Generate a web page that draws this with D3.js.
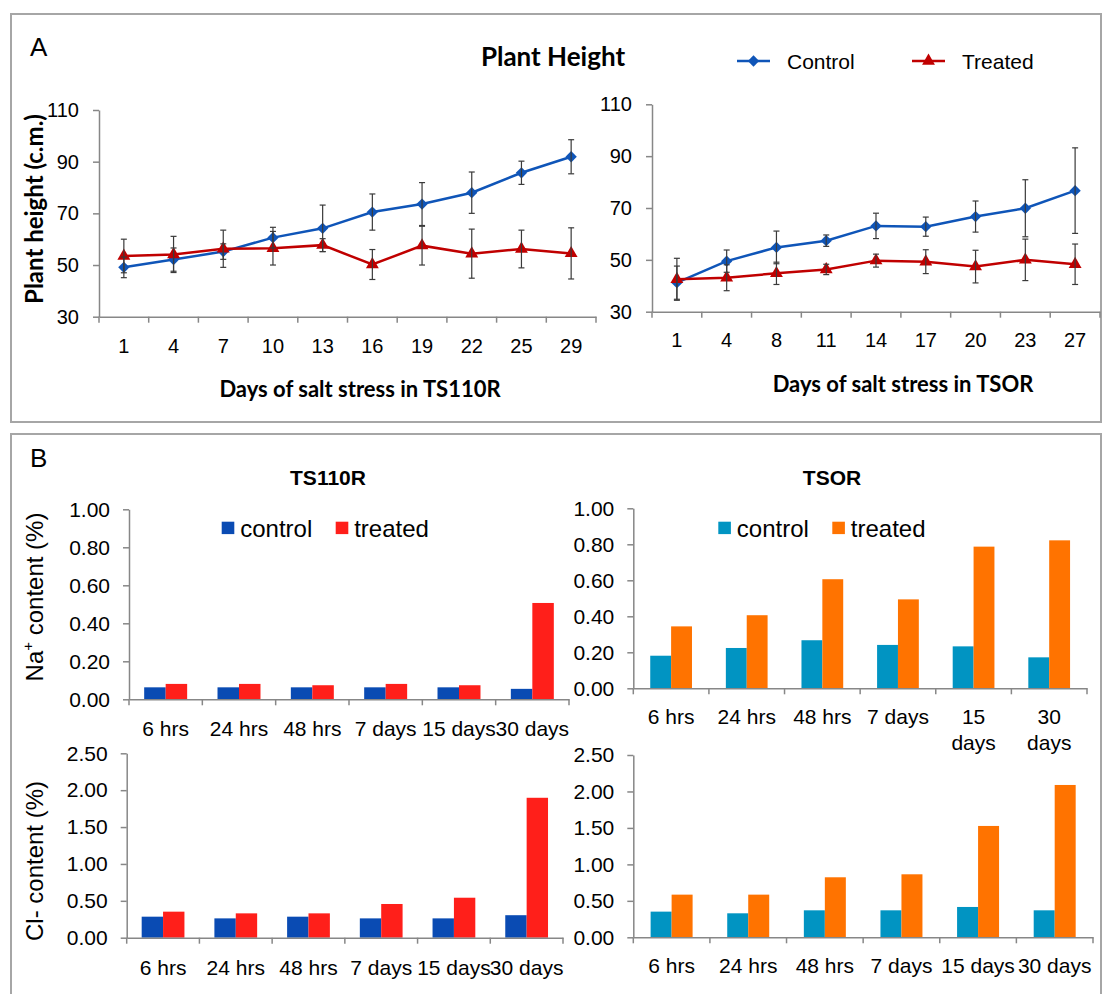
<!DOCTYPE html>
<html>
<head>
<meta charset="utf-8">
<script src="https://cdn.jsdelivr.net/npm/d3@7"></script>
<style>
  body { margin: 0; background: #fff; }
</style>
</head>
<body>
<svg id="chart" width="1103" height="994"></svg>
<script>
// ---- data: plant height (A) ----
const daysTS110R = ['1', '4', '7', '10', '13', '16', '19', '22', '25', '29'];
const controlTS110R = [49.1, 52.1, 55.2, 60.6, 64.2, 70.5, 73.6, 78.0, 85.7, 91.9];
const controlTS110RErr = [4, 4.5, 3, 4, 9, 7, 8.3, 8, 4.5, 6.6];
const treatedTS110R = [53.5, 54.1, 56.3, 56.5, 57.7, 50.2, 57.5, 54.4, 56.2, 54.5];
const treatedTS110RErr = [6.5, 7, 7.2, 6.5, 2.5, 5.8, 7.5, 9.5, 7.3, 9.9];

const daysTSOR = ['1', '4', '8', '11', '14', '17', '20', '23', '27'];
const controlTSOR = [41.2, 49.5, 54.8, 57.4, 63.1, 62.8, 66.7, 69.9, 76.7];
const controlTSORErr = [6.4, 4.3, 6.3, 2.2, 4.9, 3.7, 6, 11, 16.5];
const treatedTSOR = [42.5, 43.1, 44.8, 46.3, 49.7, 49.3, 47.4, 50, 48.3];
const treatedTSORErr = [8.1, 5, 4.3, 2, 2.5, 4.6, 6.3, 8, 7.8];

const heightTicks = [30, 50, 70, 90, 110];

// ---- data: ion content (B) ----
const periods = ['6 hrs', '24 hrs', '48 hrs', '7 days', '15 days', '30 days'];
const naControlTS110R = [0.063, 0.063, 0.063, 0.063, 0.063, 0.055];
const naTreatedTS110R = [0.081, 0.081, 0.074, 0.081, 0.074, 0.507];
const naControlTSOR = [0.181, 0.224, 0.267, 0.241, 0.233, 0.172];
const naTreatedTSOR = [0.344, 0.406, 0.606, 0.494, 0.787, 0.822];
const clControlTS110R = [0.285, 0.262, 0.285, 0.262, 0.262, 0.305];
const clTreatedTS110R = [0.353, 0.330, 0.330, 0.457, 0.542, 1.897];
const clControlTSOR = [0.352, 0.329, 0.370, 0.370, 0.416, 0.370];
const clTreatedTSOR = [0.585, 0.585, 0.823, 0.864, 1.527, 2.089];

const naTicks = [0, 0.2, 0.4, 0.6, 0.8, 1.0];
const clTicks = [0, 0.5, 1.0, 1.5, 2.0, 2.5];

const ARIAL = '"Liberation Sans", Arial, sans-serif';
const CALIBRI = 'Lato, "Open Sans", sans-serif';
const AXIS_GREY = '#878787';
const BLUE = '#0f55b8';
const DARK_RED = '#c00000';

const svg = d3.select('#chart');

// panel frames
svg.append('rect')
  .attr('x', 11).attr('y', 14).attr('width', 1090).attr('height', 408)
  .attr('fill', 'none').attr('stroke', '#a6a6a6').attr('stroke-width', 2);
svg.append('rect')
  .attr('x', 11).attr('y', 434).attr('width', 1090).attr('height', 580)
  .attr('fill', 'none').attr('stroke', '#a6a6a6').attr('stroke-width', 2);

function label(x, y, txt, size, family, weight, anchor) {
  return svg.append('text')
    .attr('x', x).attr('y', y)
    .attr('font-family', family)
    .attr('font-size', size)
    .attr('font-weight', weight || 'normal')
    .attr('text-anchor', anchor || 'middle')
    .attr('fill', '#000')
    .text(txt);
}

function styleAxis(g, size) {
  g.select('.domain').attr('stroke', AXIS_GREY).attr('stroke-width', 1.5);
  g.selectAll('.tick line').attr('stroke', AXIS_GREY).attr('stroke-width', 1.5);
  g.selectAll('.tick text')
    .attr('font-family', ARIAL)
    .attr('font-size', size)
    .attr('fill', '#000');
}

// boundary ticks under a band axis
function bandTicks(g, x, n) {
  g.selectAll('line.sep')
    .data(d3.range(n + 1))
    .join('line')
    .attr('class', 'sep')
    .attr('x1', i => x.range()[0] + i * x.step())
    .attr('x2', i => x.range()[0] + i * x.step())
    .attr('y1', 0)
    .attr('y2', 6)
    .attr('stroke', AXIS_GREY)
    .attr('stroke-width', 1.5);
}

// ---------- A: plant height ----------
function heightChart(cats, ctrl, ctrlErr, trt, trtErr, box) {
  const x = d3.scaleBand().domain(cats).range([box.left, box.right]);
  const y = d3.scaleLinear().domain([30, 110]).range([box.bottom, box.top]);
  const cx = (d, i) => x(cats[i]) + x.bandwidth() / 2;

  const g = svg.append('g');

  const yAxis = g.append('g')
    .attr('transform', `translate(${box.left},0)`)
    .call(d3.axisLeft(y).tickValues(heightTicks).tickSizeInner(6).tickSizeOuter(0).tickPadding(14));
  styleAxis(yAxis, 20);

  const xAxis = g.append('g')
    .attr('transform', `translate(0,${box.bottom})`)
    .call(d3.axisBottom(x).tickSize(0).tickPadding(box.labelPad));
  styleAxis(xAxis, 20);
  bandTicks(xAxis, x, cats.length);

  const series = [
    { values: ctrl, err: ctrlErr, color: BLUE, symbol: d3.symbolSquare, size: 64, rotate: 45 },
    { values: trt, err: trtErr, color: DARK_RED, symbol: d3.symbolTriangle, size: 72, rotate: 0 }
  ];

  series.forEach(s => {
    g.append('path')
      .datum(s.values)
      .attr('fill', 'none')
      .attr('stroke', s.color)
      .attr('stroke-width', 2.5)
      .attr('d', d3.line().x(cx).y(d => y(d)));
  });

  series.forEach(s => {
    g.append('g')
      .selectAll('path')
      .data(s.values)
      .join('path')
      .attr('d', d3.symbol().type(s.symbol).size(s.size))
      .attr('fill', s.color)
      .attr('transform', (d, i) => `translate(${cx(d, i)},${y(d)}) rotate(${s.rotate})`);
  });

  series.forEach(s => {
    const eb = g.append('g')
      .attr('stroke', '#3a3a3a')
      .attr('stroke-width', 1.2)
      .selectAll('g')
      .data(s.values)
      .join('g');
    eb.append('line')
      .attr('x1', cx).attr('x2', cx)
      .attr('y1', (d, i) => y(d - s.err[i]))
      .attr('y2', (d, i) => y(d + s.err[i]));
    eb.append('line')
      .attr('x1', (d, i) => cx(d, i) - 3).attr('x2', (d, i) => cx(d, i) + 3)
      .attr('y1', (d, i) => y(d + s.err[i])).attr('y2', (d, i) => y(d + s.err[i]));
    eb.append('line')
      .attr('x1', (d, i) => cx(d, i) - 3).attr('x2', (d, i) => cx(d, i) + 3)
      .attr('y1', (d, i) => y(d - s.err[i])).attr('y2', (d, i) => y(d - s.err[i]));
  });
}

heightChart(daysTS110R, controlTS110R, controlTS110RErr, treatedTS110R, treatedTS110RErr,
  { left: 99, right: 596, top: 110, bottom: 316.7, labelPad: 22 });
heightChart(daysTSOR, controlTSOR, controlTSORErr, treatedTSOR, treatedTSORErr,
  { left: 652, right: 1100, top: 104.3, bottom: 311.7, labelPad: 21 });

label(30, 56, 'A', 26, ARIAL, 'normal', 'start');
label(553, 66, 'Plant Height', 26, CALIBRI, 'bold');
label(360, 397, 'Days of salt stress in TS110R', 22, CALIBRI, 'bold');
label(903, 392, 'Days of salt stress in TSOR', 22, CALIBRI, 'bold');
svg.append('text')
  .attr('transform', 'translate(42.5,209) rotate(-90)')
  .attr('font-family', CALIBRI).attr('font-size', 24).attr('font-weight', 'bold')
  .attr('text-anchor', 'middle')
  .text('Plant height (c.m.)');

// legend A
const legendA = [
  { name: 'Control', color: BLUE, symbol: d3.symbolSquare, size: 64, rotate: 45, x: 737 },
  { name: 'Treated', color: DARK_RED, symbol: d3.symbolTriangle, size: 72, rotate: 0, x: 912 }
];
legendA.forEach(l => {
  svg.append('line')
    .attr('x1', l.x).attr('x2', l.x + 33).attr('y1', 61).attr('y2', 61)
    .attr('stroke', l.color).attr('stroke-width', 2.5);
  svg.append('path')
    .attr('d', d3.symbol().type(l.symbol).size(l.size))
    .attr('fill', l.color)
    .attr('transform', `translate(${l.x + 16.5},61) rotate(${l.rotate})`);
  label(l.x + 50, 68.5, l.name, 21, ARIAL, 'normal', 'start');
});

// ---------- B: ion content ----------
function ionChart(cats, ctrl, trt, colors, ticks, box) {
  const x0 = d3.scaleBand().domain(cats).range([box.left, box.right]);
  const bw = x0.bandwidth();
  const x1 = d3.scaleBand().domain(['control', 'treated']).range([bw * box.pad, bw * (1 - box.pad)]);
  const y = d3.scaleLinear().domain([0, ticks[ticks.length - 1]]).range([box.bottom, box.top]);

  const g = svg.append('g');

  const groups = g.append('g')
    .selectAll('g')
    .data(cats)
    .join('g')
    .attr('transform', d => `translate(${x0(d)},0)`);

  groups.append('rect')
    .attr('x', x1('control'))
    .attr('width', x1.bandwidth())
    .attr('y', (d, i) => y(ctrl[i]))
    .attr('height', (d, i) => y(0) - y(ctrl[i]))
    .attr('fill', colors[0]);

  groups.append('rect')
    .attr('x', x1('treated'))
    .attr('width', x1.bandwidth())
    .attr('y', (d, i) => y(trt[i]))
    .attr('height', (d, i) => y(0) - y(trt[i]))
    .attr('fill', colors[1]);

  const yAxis = g.append('g')
    .attr('transform', `translate(${box.left},0)`)
    .call(d3.axisLeft(y).tickValues(ticks).tickFormat(d3.format('.2f'))
      .tickSizeInner(6).tickSizeOuter(0).tickPadding(13));
  styleAxis(yAxis, 21);

  const xAxis = g.append('g')
    .attr('transform', `translate(0,${box.bottom})`)
    .call(d3.axisBottom(x0).tickSize(0).tickPadding(box.labelPad));
  styleAxis(xAxis, 21);
  bandTicks(xAxis, x0, cats.length);

  if (box.wrap) {
    xAxis.selectAll('.tick text').each(function (d) {
      const words = d.split(' ');
      if (d.indexOf('days') < 0 || d.length < 7) return;
      const t = d3.select(this);
      t.text(null);
      t.append('tspan').attr('x', 0).text(words[0]);
      t.append('tspan').attr('x', 0).attr('dy', '1.24em').text(words[1]);
    });
  }
  return g;
}

function ionLegend(x, colors) {
  ['control', 'treated'].forEach((name, i) => {
    const lx = x + i * 114;
    svg.append('rect')
      .attr('x', lx).attr('y', 521.7).attr('width', 12.6).attr('height', 12.4)
      .attr('fill', colors[i]);
    label(lx + 18.5, 536.5, name, 24, ARIAL, 'normal', 'start');
  });
}

const ts110rColors = ['#0a4bb3', '#ff1f1a'];
const tsorColors = ['#0194c2', '#ff7300'];

ionChart(periods, naControlTS110R, naTreatedTS110R, ts110rColors, naTicks,
  { left: 129, right: 569, top: 509.3, bottom: 699.3, pad: 0.207, labelPad: 22 });
ionChart(periods, naControlTSOR, naTreatedTSOR, tsorColors, naTicks,
  { left: 633.3, right: 1087, top: 508.3, bottom: 688.3, pad: 0.224, labelPad: 20.5, wrap: true });
ionChart(periods, clControlTS110R, clTreatedTS110R, ts110rColors, clTicks,
  { left: 126.7, right: 563, top: 753.3, bottom: 937.7, pad: 0.206, labelPad: 22 });
ionChart(periods, clControlTSOR, clTreatedTSOR, tsorColors, clTicks,
  { left: 633.3, right: 1093, top: 755, bottom: 937.3, pad: 0.226, labelPad: 21 });

ionLegend(221.7, ts110rColors);
ionLegend(718.3, tsorColors);

label(30, 467, 'B', 26, ARIAL, 'normal', 'start');
label(328, 484.5, 'TS110R', 21, ARIAL, 'bold');
label(832, 484.5, 'TSOR', 21, ARIAL, 'bold');

const naTitle = svg.append('text')
  .attr('transform', 'translate(43,597) rotate(-90)')
  .attr('font-family', ARIAL).attr('font-size', 24)
  .attr('text-anchor', 'middle');
naTitle.append('tspan').text('Na');
naTitle.append('tspan').attr('font-size', 15).attr('dy', '-0.7em').text('+');
naTitle.append('tspan').attr('dy', '0.44em').text(' content (%)');

svg.append('text')
  .attr('transform', 'translate(43,861) rotate(-90)')
  .attr('font-family', ARIAL).attr('font-size', 24)
  .attr('text-anchor', 'middle')
  .text('Cl- content (%)');
</script>
</body>
</html>
